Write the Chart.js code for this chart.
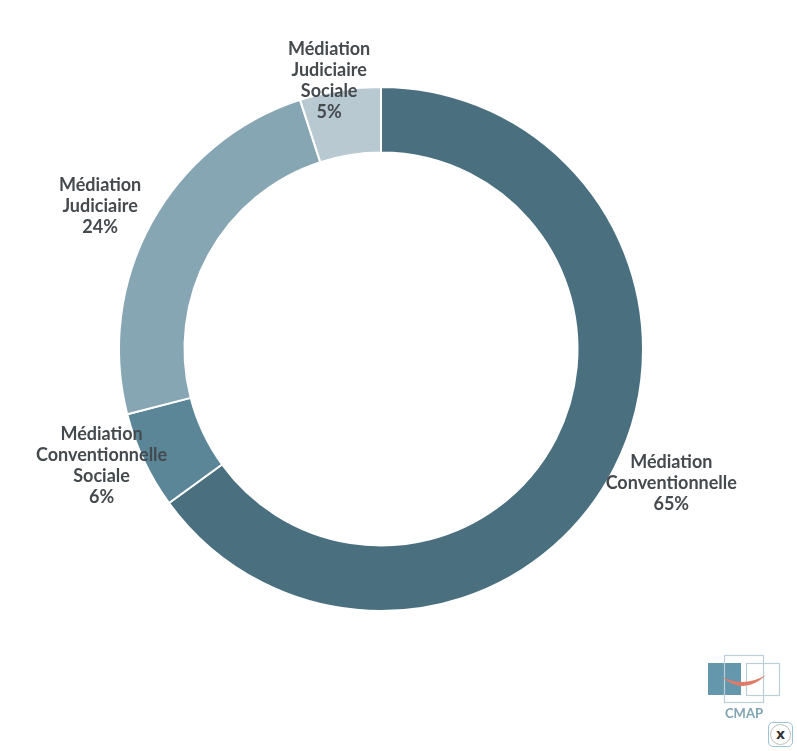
<!DOCTYPE html>
<html>
<head>
<meta charset="utf-8">
<style>
    html, body { margin: 0; padding: 0; background: #fff; }
    #wrap { position: relative; width: 797px; height: 751px; overflow: hidden; }
    #logo { position: absolute; left: 700px; top: 650px; }
    #closeBtn { position: absolute; left: 768px; top: 722px; width: 23px; height: 23px; border: 1px solid #9cc3d8; border-radius: 5px; background: #fff; }
    #closeBtn span { display: block; margin: 1px; width: 19px; height: 19px; border: 1px solid #bbb; border-radius: 50%; text-align: center; font: bold 14px/18px "DejaVu Sans", sans-serif; color: #333; }
</style>
</head>
<body>
<div id="wrap">
    <canvas id="repartitionChart" width="797" height="751"></canvas>
    <svg id="logo" width="85" height="75">
        <rect x="8" y="13" width="33" height="32" fill="#6497ac"/>
        <rect x="24.5" y="5.5" width="39" height="47" fill="none" stroke="#bccfd8" stroke-width="1.2"/>
        <rect x="46.5" y="13.5" width="33" height="32" fill="none" stroke="#bccfd8" stroke-width="1.2"/>
        <path d="M22 27 Q44 46 66 25 Q44 38 22 27 Z" fill="#df7a68"/>
        <text x="44" y="68" text-anchor="middle" font-family="Lato" font-weight="700" font-size="13" fill="#7fa3b3">CMAP</text>
    </svg>
    <div id="closeBtn"><span>x</span></div>
</div>
<script src="https://cdn.jsdelivr.net/npm/chart.js@4"></script>
<script>
const categories = ['Médiation Conventionnelle', 'Médiation Conventionnelle Sociale', 'Médiation Judiciaire', 'Médiation Judiciaire Sociale'];
const values = [65, 6, 24, 5];
const sliceColors = ['#4a707f', '#5a8697', '#87a6b3', '#b8c9d2'];
const labelLines = [
    ['Médiation', 'Conventionnelle', '65%'],
    ['Médiation', 'Conventionnelle', 'Sociale', '6%'],
    ['Médiation', 'Judiciaire', '24%'],
    ['Médiation', 'Judiciaire', 'Sociale', '5%']
];
// label offset from the middle of each slice
const labelOffsets = [[86, 30], [-72, 19], [-80, -32], [-16, -42]];

const sliceLabels = {
    id: 'sliceLabels',
    afterDatasetsDraw(chart) {
        const ctx = chart.ctx;
        const arcs = chart.getDatasetMeta(0).data;
        ctx.save();
        ctx.font = 'bold 18px Lato';
        ctx.fillStyle = '#444a4e';
        ctx.textAlign = 'center';
        ctx.textBaseline = 'middle';
        arcs.forEach((arc, i) => {
            const p = arc.getCenterPoint();
            const lines = labelLines[i];
            const x = p.x + labelOffsets[i][0];
            const y = p.y + labelOffsets[i][1] - (lines.length - 1) * 10.5;
            lines.forEach((line, n) => ctx.fillText(line, x, y + n * 21));
        });
        ctx.restore();
    }
};

new Chart(document.getElementById('repartitionChart').getContext('2d'), {
    type: 'doughnut',
    data: {
        labels: categories,
        datasets: [{
            data: values,
            backgroundColor: sliceColors,
            borderColor: '#fff',
            borderWidth: 2
        }]
    },
    options: {
        responsive: false,
        animation: false,
        cutout: '75%',
        layout: { padding: { left: 118, right: 153, top: 86, bottom: 139 } },
        plugins: {
            legend: { display: false },
            tooltip: { enabled: false }
        }
    },
    plugins: [sliceLabels]
});
</script>
</body>
</html>
